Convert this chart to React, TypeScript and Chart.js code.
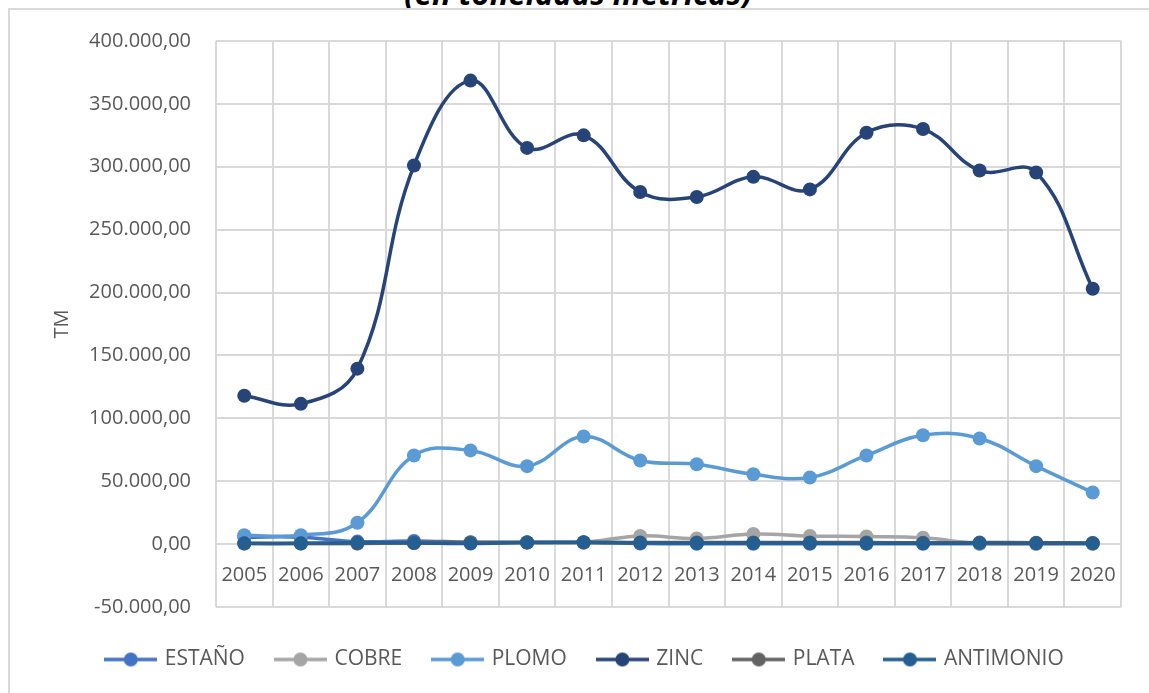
import React, { useEffect, useRef } from "react";
import { Chart, registerables } from "chart.js";

Chart.register(...registerables);

const years = ["2005", "2006", "2007", "2008", "2009", "2010", "2011", "2012", "2013", "2014", "2015", "2016", "2017", "2018", "2019", "2020"];

const estano = [5500, 5500, 2000, 2500, 1500, 1500, 1200, 400, 300, 300, 300, 300, 300, 300, 300, 300];
const cobre = [500, 500, 500, 800, 1000, 1200, 1500, 6500, 4500, 8000, 6500, 6000, 5000, 500, 300, 200];
const plomo = [7000, 7000, 17000, 70500, 74500, 62000, 85500, 66500, 63500, 55500, 53000, 70500, 86500, 84000, 62000, 41000];
const zinc = [118000, 111500, 139500, 301000, 368500, 315000, 325000, 280000, 276000, 292000, 282000, 327000, 330000, 297000, 295500, 203000];
const plata = [400, 450, 500, 1100, 1300, 1250, 1200, 1200, 1250, 1300, 1250, 1200, 1150, 1200, 1150, 950];
const antimonio = [600, 600, 1000, 900, 400, 1200, 1500, 1000, 800, 800, 800, 700, 600, 800, 600, 700];

const seriesNames = ["ESTAÑO", "COBRE", "PLOMO", "ZINC", "PLATA", "ANTIMONIO"];
const seriesValues = [estano, cobre, plomo, zinc, plata, antimonio];
const seriesColors = ["#4472C4", "#A5A5A5", "#5B9BD5", "#264478", "#636363", "#255E91"];

const yMin = -50000;
const yMax = 400000;
const yStep = 50000;

const titleText = "(en toneladas métricas)";
const yTitle = "TM";

const FONT = "'Open Sans', 'Noto Sans', sans-serif";
const TEXT = "#595959";
const GRID = "#d9d9d9";

function fmt(v: number): string {
  const neg = v < 0;
  const s = Math.abs(Math.round(v)).toString().replace(/\B(?=(\d{3})+(?!\d))/g, ".");
  return (neg ? "-" : "") + s + ",00";
}

function legendIcon(color: string): HTMLCanvasElement {
  const c = document.createElement("canvas");
  c.width = 53;
  c.height = 16;
  const g = c.getContext("2d")!;
  g.strokeStyle = color;
  g.lineWidth = 3.5;
  g.beginPath();
  g.moveTo(0, 8);
  g.lineTo(53, 8);
  g.stroke();
  g.fillStyle = color;
  g.beginPath();
  g.arc(26.5, 8, 7, 0, Math.PI * 2);
  g.fill();
  return c;
}

export default function App() {
  const ref = useRef<HTMLCanvasElement | null>(null);

  useEffect(() => {
    if (!ref.current) return;
    const icons = seriesColors.map(legendIcon);
    const chart = new Chart(ref.current, {
      type: "line",
      data: {
        labels: years,
        datasets: seriesNames.map((name, i) => ({
          label: name,
          data: seriesValues[i],
          borderColor: seriesColors[i],
          backgroundColor: seriesColors[i],
          pointBackgroundColor: seriesColors[i],
          pointBorderColor: seriesColors[i],
          borderWidth: 3.5,
          pointRadius: 7,
          pointBorderWidth: 0,
          tension: 0.4,
          fill: false,
          order: seriesNames.length - 1 - i,
        })),
      },
      options: {
        animation: false,
        responsive: false,
        layout: { padding: { top: 0, right: 36, bottom: 13, left: 39 } },
        plugins: {
          tooltip: { enabled: false },
          title: { display: false },
          legend: {
            position: "bottom",
            align: "center",
            title: { display: true, text: "", padding: 0, font: { size: 10, lineHeight: 1 } },
            labels: {
              usePointStyle: true,
              pointStyleWidth: 47,
              padding: 32,
              color: TEXT,
              font: { family: FONT, size: 21 },
              generateLabels: () =>
                seriesNames.map((n, i) => ({
                  text: n,
                  fillStyle: seriesColors[i],
                  strokeStyle: seriesColors[i],
                  lineWidth: 0,
                  pointStyle: icons[i] as any,
                  hidden: false,
                  datasetIndex: i,
                  fontColor: TEXT,
                })),
            },
          },
        },
        scales: {
          x: {
            type: "category",
            position: { y: 0 } as any,
            offset: true,
            grid: { offset: true, color: GRID, lineWidth: 2, drawTicks: false },
            border: { display: false },
            ticks: { color: TEXT, font: { family: FONT, size: 20 }, padding: 19, maxRotation: 0, autoSkip: false },
          },
          y: {
            min: yMin,
            max: yMax,
            grid: { color: GRID, lineWidth: 2, drawTicks: false },
            border: { display: false },
            ticks: {
              stepSize: yStep,
              color: TEXT,
              font: { family: FONT, size: 20 },
              padding: 25,
              callback: (v: any) => fmt(Number(v)),
            },
            title: { display: true, text: yTitle, color: TEXT, font: { family: FONT, size: 20 }, padding: 0 },
            afterFit: (scale: any) => {
              scale.width = 166;
            },
          },
        },
      },
    } as any);
    return () => chart.destroy();
  }, []);

  return (
    <div style={{ position: "fixed", left: 0, top: 0, width: 1149, height: 693, overflow: "hidden", background: "#fff" }}>
      <div
        style={{
          position: "absolute",
          left: 0,
          top: -22,
          width: 1156,
          textAlign: "center",
          fontFamily: FONT,
          fontWeight: 700,
          fontStyle: "italic",
          fontSize: 31,
          lineHeight: "31px",
          color: "#000",
          whiteSpace: "nowrap",
        }}
      >
        {titleText}
      </div>
      <div
        style={{
          position: "absolute",
          left: 8,
          top: 8,
          width: 1300,
          height: 900,
          border: `2px solid ${GRID}`,
        }}
      />
      <canvas ref={ref} width={1146} height={689} style={{ position: "absolute", left: 11, top: 4, width: 1146, height: 689 }} />
    </div>
  );
}
